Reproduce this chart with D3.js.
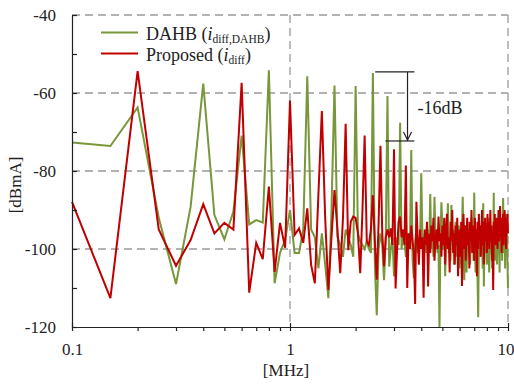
<!DOCTYPE html>
<html><head><meta charset="utf-8">
<script src="https://cdn.jsdelivr.net/npm/d3@7"></script>
<style>
body{margin:0;background:#fff}
svg{display:block}
text{font-family:"Liberation Serif","Times New Roman",serif;fill:#222}
</style>
</head><body>
<svg id="c" width="514" height="384"></svg>
<script>
// frequency grid (MHz)
const freqs = [
0.1,0.15,0.2,0.25,0.3,0.35,0.4,0.45,0.5,0.55,0.6,0.65,0.7,0.75,0.8,0.85,0.9,0.95,1,1.05,
1.1,1.15,1.2,1.25,1.3,1.35,1.4,1.45,1.5,1.55,1.6,1.65,1.7,1.75,1.8,1.85,1.9,1.95,2,2.05,
2.1,2.15,2.2,2.25,2.3,2.35,2.4,2.45,2.5,2.55,2.6,2.65,2.7,2.75,2.8,2.85,2.9,2.95,3,3.05,
3.1,3.15,3.2,3.25,3.3,3.35,3.4,3.45,3.5,3.55,3.6,3.65,3.7,3.75,3.8,3.85,3.9,3.95,4,4.05,
4.1,4.15,4.2,4.25,4.3,4.35,4.4,4.45,4.5,4.55,4.6,4.65,4.7,4.75,4.8,4.85,4.9,4.95,5,5.05,
5.1,5.15,5.2,5.25,5.3,5.35,5.4,5.45,5.5,5.55,5.6,5.65,5.7,5.75,5.8,5.85,5.9,5.95,6,6.05,
6.1,6.15,6.2,6.25,6.3,6.35,6.4,6.45,6.5,6.55,6.6,6.65,6.7,6.75,6.8,6.85,6.9,6.95,7,7.05,
7.1,7.15,7.2,7.25,7.3,7.35,7.4,7.45,7.5,7.55,7.6,7.65,7.7,7.75,7.8,7.85,7.9,7.95,8,8.05,
8.1,8.15,8.2,8.25,8.3,8.35,8.4,8.45,8.5,8.55,8.6,8.65,8.7,8.75,8.8,8.85,8.9,8.95,9,9.05,
9.1,9.15,9.2,9.25,9.3,9.35,9.4,9.45,9.5,9.55,9.6,9.65,9.7,9.75,9.8,9.85,9.9,9.95,10
];
// DAHB i_diff,DAHB (dBmA)
const dahb = [
-72.7,-73.6,-63.7,-92,-109,-89.2,-57.6,-91.3,-97.5,-90.4,-70.9,-93.7,-92.6,-93.2,-54.2,-108.8,-101,-97.7,-90,-101,
-101,-95,-55.7,-95,-97,-105,-96,-104,-112.6,-90,-58.1,-96.8,-99,-102,-95,-97,-99,-102,-58.2,-96,
-98,-99,-100,-98,-100,-101,-54.9,-104,-117,-100,-96,-99,-108,-97,-60.8,-104.5,-100,-97,-107,-101,
-97,-99,-67.6,-100,-96,-98,-102,-99,-96,-99,-74.6,-103,-107.5,-98,-95,-101,-97,-99,-80.6,-97,
-100,-96,-101,-98,-95,-99,-85.9,-100,-97,-102,-86.6,-98,-96,-101,-99,-120,-97,-88,-94,-100,
-96,-107,-95,-99,-88.3,-101,-97,-103,-88.7,-99,-95,-104,-97,-93,-102,-96,-99,-94,-105,-98,
-104,-95,-86.6,-100,-108,-97,-94,-106,-99,-93,-101,-96,-104,-98,-92,-100,-95,-103,-85.5,-99,
-106,-96,-101,-108,-117.5,-98,-94,-102,-96,-100,-93,-105,-88.3,-109.6,-97,-101,-95,-99,-104,-96,
-92,-100,-106,-97,-94,-101,-98,-105,-96,-108,-85.6,-99,-103,-95,-100,-93,-104,-97,-101,-94,
-99,-106,-96,-92,-100,-97,-103,-95,-86.9,-101,-98,-94,-105,-97,-91,-100,-96,-104,-110
];
// Proposed i_diff (dBmA)
const proposed = [
-87.9,-112.6,-54.4,-95,-104.3,-97.7,-88.5,-96,-93.3,-95,-57.4,-111.2,-98.4,-102.6,-84,-105.9,-93.3,-99.7,-61.9,-96.4,
-94.7,-98.4,-89.6,-104.1,-108.8,-86,-64.6,-92,-110.5,-97,-84.9,-95,-106.2,-92,-67.9,-100.3,-93,-91.7,-92,-96,
-106.2,-90,-70.9,-98,-99,-95,-86.2,-98,-107.9,-93,-73.5,-96,-104.5,-97,-95,-97,-94.7,-99,-74.4,-110.1,
-100,-93,-91.7,-97,-95,-99,-78.6,-110,-96,-100,-94,-98,-101,-114.1,-87.9,-97,-104,-95,-100,-97,
-112.5,-95,-99,-93,-109.6,-96,-101,-94,-98,-92,-103,-97,-95,-100,-91.7,-98,-96,-102,-94,-99,
-92,-104,-95,-91,-100,-97,-106,-93,-98,-90,-101,-96,-104,-94,-99,-92,-107,-97,-95,-102,
-93,-109.5,-96,-91,-100,-94,-103,-97,-92,-99,-95,-105,-93,-98,-90,-101,-96,-94,-103,-92,
-98,-95,-107,-93,-100,-91,-97,-94,-102,-96,-90,-99,-93,-104,-95,-92,-98,-94,-101,-91,
-97,-93,-100,-95,-90,-98,-94,-103,-96,-110.5,-93,-97,-91,-99,-94,-96,-92,-100,-95,-90,
-98,-93,-89,-97,-94,-101,-92,-96,-91,-99,-94,-90,-97,-93,-100,-92,-95,-91,-96
];
const yTickLabels = [-40,-60,-80,-100,-120];
const xTickLabels = [0.1,1,10];
const xTitle = "[MHz]", yTitle = "[dBmA]";
const annotText = "-16dB";

const colors = {dahb:"#77973A", proposed:"#C00000"};
const svg = d3.select("#c");
svg.append("rect").attr("width",514).attr("height",384).attr("fill","#fff");

const x = d3.scaleLog().domain([0.1,10]).range([72,508]);
const y = d3.scaleLinear().domain([-120,-40]).range([327,15]);

// grid
const grid = svg.append("g").attr("stroke","#9a9a9a").attr("stroke-width",1.3).attr("stroke-dasharray","8,5").attr("fill","none");
[-40,-60,-80,-100].forEach(v=>{
  grid.append("line").attr("x1",x(0.1)).attr("x2",x(10)).attr("y1",y(v)).attr("y2",y(v));
});
[1,10].forEach(v=>{
  grid.append("line").attr("x1",x(v)).attr("x2",x(v)).attr("y1",y(-40)).attr("y2",y(-120));
});

// series
const line = d3.line().x(d=>x(d[0])).y(d=>y(d[1]));
svg.append("path").datum(freqs.map((f,i)=>[f,dahb[i]]))
  .attr("d",line).attr("fill","none").attr("stroke",colors.dahb).attr("stroke-width",2);
svg.append("path").datum(freqs.map((f,i)=>[f,proposed[i]]))
  .attr("d",line).attr("fill","none").attr("stroke",colors.proposed).attr("stroke-width",2);

// y axis
const yAxis = d3.axisLeft(y).tickValues(d3.range(-120,-39,10)).tickSizeInner(-5).tickSizeOuter(0)
  .tickPadding(16).tickFormat(d=>yTickLabels.includes(d)?d:"");
const ya = svg.append("g").attr("transform","translate(72,0)").call(yAxis);
ya.selectAll("text").attr("font-size",17).style("font-family","'Liberation Serif',serif").attr("fill","#222");
ya.selectAll("line,path").attr("stroke","#222").attr("stroke-width",1.2);

// x axis
const minor = [0.1,0.2,0.3,0.4,0.5,0.6,0.7,0.8,0.9,1,2,3,4,5,6,7,8,9,10];
const xAxis = d3.axisBottom(x).tickValues(minor).tickSizeInner(4).tickSizeOuter(0).tickPadding(12)
  .tickFormat(d=>xTickLabels.includes(d)?String(d):"");
const xa = svg.append("g").attr("transform","translate(0,327)").call(xAxis);
xa.selectAll("text").attr("font-size",17).style("font-family","'Liberation Serif',serif").attr("fill","#222");
xa.selectAll("line,path").attr("stroke","#222").attr("stroke-width",1.2);
xa.selectAll(".tick").filter(d=>xTickLabels.includes(d)).select("line").attr("y1",-4);
xa.selectAll(".tick").filter(d=>d===10).select("text").attr("text-anchor","end").attr("x",6);

// axis titles
svg.append("text").attr("x",286).attr("y",376).attr("text-anchor","middle").attr("font-size",17).text(xTitle);
svg.append("text").attr("transform","translate(21,185) rotate(-90)").attr("text-anchor","middle").attr("font-size",17).text(yTitle);

// legend
const lg = svg.append("g");
const legendItems = [
  {c:colors.dahb, name:"DAHB", sub:"diff,DAHB", y:32.5},
  {c:colors.proposed, name:"Proposed", sub:"diff", y:53.5}
];
legendItems.forEach(it=>{
  lg.append("line").attr("x1",101).attr("x2",138).attr("y1",it.y).attr("y2",it.y).attr("stroke",it.c).attr("stroke-width",2);
  const t = lg.append("text").attr("x",146).attr("y",it.y+7).attr("font-size",18);
  t.append("tspan").text(it.name+" (");
  t.append("tspan").attr("font-style","italic").text("i");
  t.append("tspan").attr("font-size",11.5).attr("dy",3).text(it.sub);
  t.append("tspan").attr("dy",-3).text(")");
});

// annotation
const an = svg.append("g").attr("stroke","#222").attr("stroke-width",1.2).attr("fill","none");
const yTop = y(-54.6), yBot = y(-72.3), xArr = x(3.46);
an.append("line").attr("x1",x(2.46)).attr("x2",x(3.72)).attr("y1",yTop).attr("y2",yTop);
an.append("line").attr("x1",x(2.74)).attr("x2",x(3.72)).attr("y1",yBot).attr("y2",yBot);
an.append("line").attr("x1",xArr).attr("x2",xArr).attr("y1",yTop).attr("y2",yBot);
an.append("path").attr("d",`M${xArr-4},${yBot-9}L${xArr},${yBot-1}L${xArr+4},${yBot-9}`);
svg.append("text").attr("x",417.5).attr("y",114).attr("font-size",18).text(annotText);
</script>
</body></html>
